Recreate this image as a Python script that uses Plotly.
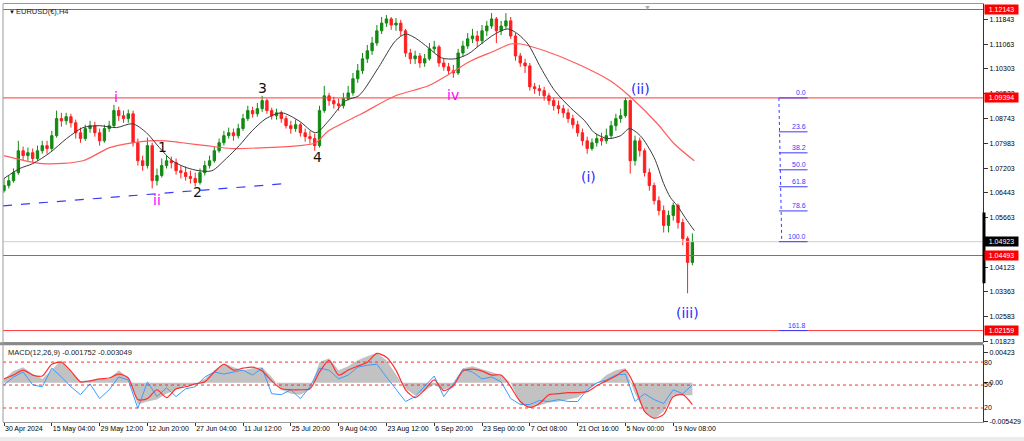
import plotly.graph_objects as go

# ---------------- data ----------------
first_open = 1.0651
closes = [
    1.0667, 1.0682, 1.0707, 1.0775, 1.0760, 1.0769, 1.0751, 1.0775, 1.0791, 1.0782,
    1.0822, 1.0875, 1.0868, 1.0881, 1.0862, 1.0831, 1.0813, 1.0844, 1.0853, 1.0831,
    1.0806, 1.0844, 1.0853, 1.0900, 1.0884, 1.0875, 1.0890, 1.0800, 1.0744, 1.0729,
    1.0791, 1.0682, 1.0698, 1.0729, 1.0744, 1.0738, 1.0713, 1.0707, 1.0695, 1.0689,
    1.0676, 1.0707, 1.0729, 1.0744, 1.0775, 1.0800, 1.0822, 1.0831, 1.0822, 1.0844,
    1.0875, 1.0900, 1.0890, 1.0906, 1.0931, 1.0900, 1.0884, 1.0893, 1.0875, 1.0853,
    1.0844, 1.0856, 1.0831, 1.0819, 1.0813, 1.0791, 1.0900, 1.0946, 1.0931, 1.0921,
    1.0915, 1.0937, 1.0955, 1.0999, 1.1024, 1.1061, 1.1086, 1.1110, 1.1148, 1.1172,
    1.1185, 1.1166, 1.1172, 1.1148, 1.1079, 1.1061, 1.1070, 1.1048, 1.1061, 1.1092,
    1.1098, 1.1048, 1.1036, 1.1024, 1.1017, 1.1079, 1.1101, 1.1123, 1.1132, 1.1117,
    1.1148, 1.1163, 1.1185, 1.1148, 1.1163, 1.1179, 1.1132, 1.1070, 1.1048, 1.1039,
    1.0974, 1.0968, 1.0962, 1.0946, 1.0931, 1.0915, 1.0906, 1.0893, 1.0875, 1.0856,
    1.0831, 1.0806, 1.0782, 1.0800, 1.0813, 1.0806, 1.0822, 1.0853, 1.0875, 1.0884,
    1.0931, 1.0744, 1.0806, 1.0775, 1.0707, 1.0667, 1.0620, 1.0589, 1.0543, 1.0574,
    1.0605, 1.0552, 1.0502, 1.0428, 1.04923,
]
highs = [
    1.0689, 1.0698, 1.0720, 1.0806, 1.0788, 1.0785, 1.0782, 1.0791, 1.0806, 1.0806,
    1.0837, 1.0900, 1.0893, 1.0893, 1.0890, 1.0872, 1.0847, 1.0856, 1.0868, 1.0865,
    1.0844, 1.0856, 1.0868, 1.0918, 1.0912, 1.0900, 1.0903, 1.0900, 1.0813, 1.0760,
    1.0816, 1.0800, 1.0720, 1.0751, 1.0760, 1.0757, 1.0751, 1.0729, 1.0726, 1.0713,
    1.0707, 1.0720, 1.0744, 1.0760, 1.0788, 1.0813, 1.0837, 1.0847, 1.0844, 1.0859,
    1.0890, 1.0915, 1.0912, 1.0924, 1.0946, 1.0937, 1.0909, 1.0906, 1.0900, 1.0884,
    1.0868, 1.0872, 1.0862, 1.0844, 1.0837, 1.0828, 1.0915, 1.0977, 1.0955, 1.0943,
    1.0937, 1.0955, 1.0977, 1.1017, 1.1045, 1.1079, 1.1104, 1.1129, 1.1166, 1.1191,
    1.1197, 1.1191, 1.1188, 1.1182, 1.1154, 1.1092, 1.1086, 1.1079, 1.1076, 1.1110,
    1.1117, 1.1104, 1.1061, 1.1048, 1.1042, 1.1092, 1.1117, 1.1141, 1.1154, 1.1148,
    1.1166, 1.1179, 1.1203, 1.1191, 1.1179, 1.1203, 1.1191, 1.1141, 1.1079, 1.1061,
    1.1048, 1.0986, 1.0980, 1.0974, 1.0955, 1.0940, 1.0931, 1.0918, 1.0906, 1.0887,
    1.0868, 1.0844, 1.0819, 1.0813, 1.0828, 1.0831, 1.0844, 1.0868, 1.0890, 1.0906,
    1.0940, 1.0934, 1.0822, 1.0816, 1.0782, 1.0720, 1.0676, 1.0633, 1.0605, 1.0589,
    1.0614, 1.0611, 1.0564, 1.0509, 1.0518,
]
lows = [
    1.0645, 1.0658, 1.0676, 1.0701, 1.0744, 1.0744, 1.0738, 1.0744, 1.0766, 1.0766,
    1.0775, 1.0816, 1.0850, 1.0856, 1.0847, 1.0813, 1.0800, 1.0806, 1.0831, 1.0819,
    1.0791, 1.0800, 1.0834, 1.0847, 1.0868, 1.0862, 1.0862, 1.0788, 1.0729, 1.0713,
    1.0720, 1.0658, 1.0667, 1.0692, 1.0720, 1.0720, 1.0701, 1.0689, 1.0682, 1.0673,
    1.0664, 1.0670, 1.0698, 1.0720, 1.0738, 1.0769, 1.0791, 1.0813, 1.0806, 1.0813,
    1.0837, 1.0868, 1.0878, 1.0881, 1.0896, 1.0890, 1.0872, 1.0872, 1.0862, 1.0844,
    1.0828, 1.0834, 1.0819, 1.0803, 1.0797, 1.0775, 1.0785, 1.0893, 1.0915, 1.0906,
    1.0900, 1.0906, 1.0931, 1.0946, 1.0986, 1.1014, 1.1048, 1.1073, 1.1101, 1.1138,
    1.1160, 1.1151, 1.1148, 1.1132, 1.1067, 1.1045, 1.1045, 1.1033, 1.1036, 1.1055,
    1.1079, 1.1036, 1.1024, 1.1011, 1.1002, 1.1011, 1.1067, 1.1092, 1.1110, 1.1098,
    1.1107, 1.1132, 1.1154, 1.1110, 1.1135, 1.1154, 1.1123, 1.1055, 1.1036, 1.1017,
    1.0962, 1.0952, 1.0946, 1.0931, 1.0918, 1.0900, 1.0890, 1.0878, 1.0862, 1.0844,
    1.0819, 1.0791, 1.0766, 1.0775, 1.0788, 1.0791, 1.0797, 1.0813, 1.0837, 1.0862,
    1.0878, 1.0704, 1.0729, 1.0757, 1.0695, 1.0651, 1.0608, 1.0574, 1.0521, 1.0521,
    1.0558, 1.0533, 1.0481, 1.0332, 1.0419,
]
opens = [first_open] + closes[:-1]
bar_idx = list(range(len(closes)))

# moving averages (bar index, price)
black_ma_idx = [0, 3.3, 6, 9.6, 13.1, 16.5, 20, 23.5, 26.9, 29.8, 32.5, 35.2, 38.1, 40.8, 43.5,
                46.5, 49.2, 51.9, 54.8, 58.1, 61.7, 65.2, 67.9, 71.5, 74.2, 78.3, 81.9, 84, 86,
                88.8, 91.5, 94.4, 97.1, 99.8, 102.7, 105.4, 107.5, 109.6, 112.3, 115.2, 118.5,
                121.5, 123.5, 126.3, 129, 130.8, 133.1, 136, 138, 139.4, 140.8, 142.9, 144.4]
black_ma = [1.0689, 1.0720, 1.0735, 1.0769, 1.0813, 1.0847, 1.0853, 1.0847, 1.0859, 1.0831,
            1.0785, 1.0744, 1.0723, 1.0713, 1.0713, 1.0751, 1.0791, 1.0837, 1.0875, 1.0893,
            1.0868, 1.0831, 1.0868, 1.0931, 1.0946, 1.1033, 1.1117, 1.1138, 1.1126, 1.1095,
            1.1064, 1.1061, 1.1076, 1.1107, 1.1138, 1.1154, 1.1138, 1.1107, 1.1033, 1.0962,
            1.0909, 1.0868, 1.0831, 1.0813, 1.0822, 1.0844, 1.0822, 1.0754, 1.0673, 1.0630,
            1.0605, 1.0558, 1.0527]
red_ma_idx = [0, 8.1, 16.5, 22.1, 26.9, 30.4, 34, 37.3, 42.3, 47.7, 54.8, 61.7, 65.2, 67.9,
              74.8, 81.9, 88.75, 93.5, 97.7, 102.7, 106, 108.1, 113.1, 120, 126.9, 131, 136.7,
              140.2, 144.4]
red_ma = [1.0760, 1.0735, 1.0744, 1.0785, 1.0800, 1.0806, 1.0806, 1.0800, 1.0791, 1.0782,
          1.0785, 1.0791, 1.0800, 1.0837, 1.0890, 1.0946, 1.0977, 1.1017, 1.1055, 1.1086,
          1.1107, 1.1107, 1.1086, 1.1045, 1.0992, 1.0943, 1.0859, 1.0797, 1.0744]

trend_idx = [-0.2, 59]
trend_price = [1.0604, 1.0673]

# horizontal levels
red_levels = [1.12143, 1.09394, 1.04493, 1.02159]
current_price = 1.04923
scale_bar = [1.0583, 1.0363]

# fibonacci
fib_ratios = [0.0, 23.6, 38.2, 50.0, 61.8, 78.6, 100.0, 161.8]
fib_high = 1.09394
fib_low = 1.04923
fib_x = [162.1, 168.1]
fib_stem_x = [162.1, 162.7]

# wave labels
wave_text = ["i", "ii", "1", "2", "3", "4", "iv", "(ii)", "(i)", "(iii)"]
wave_idx = [23.5, 32.0, 33.1, 40.4, 54.0, 65.6, 94.0, 133.1, 122.3, 142.9]
wave_price = [1.0943, 1.0623, 1.0788, 1.0648, 1.0971, 1.0757, 1.0949, 1.0968, 1.0695, 1.0270]
wave_color = ["#ff00ff", "#ff00ff", "#111111", "#111111", "#111111", "#111111",
              "#ff00ff", "#2b2bff", "#2b2bff", "#2b2bff"]

# axis labels
price_ticks = [1.11843, 1.11063, 1.10303, 1.09523, 1.08743, 1.07983, 1.07203, 1.06443,
               1.05663, 1.04883, 1.04123, 1.03363, 1.02583, 1.01823]
date_tick_idx = [0, 10, 20, 30, 40, 50, 60, 70, 80, 90, 100, 110, 120, 130, 140]
date_labels = ["30 Apr 2024", "15 May 04:00", "29 May 12:00", "12 Jun 20:00", "27 Jun 04:00",
               "11 Jul 12:00", "25 Jul 20:00", "9 Aug 04:00", "23 Aug 12:00", "6 Sep 20:00",
               "23 Sep 00:00", "7 Oct 08:00", "21 Oct 16:00", "5 Nov 00:00", "19 Nov 08:00"]

# MACD panel (every second bar)
macd_idx = list(range(0, 145, 2))
macd_hist = [0.00055, 0.00166, 0.00221, 0.00124, 0.00055, 0.00179, 0.00317, 0.00166, 0.00028, 0.00041,
             0.00055, 0.00055, 0.00179, 0.00069, -0.00304, -0.00262, -0.00235, -0.00152, -0.00097, -0.00041,
             -0.00014, 0.00055, 0.00179, 0.00276, 0.00221, 0.00179, 0.00207, 0.00221, 0.00083, -0.00097,
             -0.00152, -0.00166, -0.00097, 0.00290, 0.00345, 0.00179, 0.00235, 0.00317, 0.00373, 0.00423,
             0.00317, 0.00124, -0.00083, -0.00179, -0.00110, -0.00028, -0.00097, -0.00055, 0.00207, 0.00235,
             0.00193, 0.00152, 0.00110, 0.0, -0.00290, -0.00345, -0.00317, -0.00276, -0.00262, -0.00235,
             -0.00207, -0.00110, -0.00014, 0.00110, 0.00179, 0.00207, -0.00152, -0.00400, -0.00511, -0.00400,
             -0.00166, -0.00179, -0.001752]
macd_red = [0.00055, 0.00110, 0.00179, 0.00110, 0.00097, 0.00262, 0.00290, 0.00166, 0.00014, 0.00028,
            0.00055, 0.00069, 0.00124, 0.00069, -0.00235, -0.00221, -0.00097, -0.00207, -0.00083, -0.00055,
            -0.00014, 0.00014, 0.00152, 0.00262, 0.00179, 0.00207, 0.00221, 0.00166, 0.00028, -0.00083,
            -0.00097, -0.00097, -0.00083, 0.00152, 0.00317, 0.00110, 0.00179, 0.00235, 0.00290, 0.00414,
            0.00359, 0.00179, -0.00097, -0.00207, -0.00097, 0.00041, -0.00110, -0.00041, 0.00166, 0.00193,
            0.00166, 0.00110, 0.00110, -0.00055, -0.00262, -0.00345, -0.00290, -0.00166, -0.00152, -0.00138,
            -0.00138, -0.00124, -0.00041, 0.00028, 0.00097, 0.00179, -0.00055, -0.00400, -0.00497, -0.00442,
            -0.00193, -0.00166, -0.003049]
macd_blue = [-0.00028, 0.00083, 0.00152, -0.00028, -0.00055, 0.00207, 0.00083, -0.00055, -0.00166, -0.00014,
             -0.00221, -0.00097, 0.00083, 0.00041, -0.00359, 0.00014, -0.00193, -0.00069, -0.00193, -0.00083,
             -0.00055, 0.00083, 0.00152, 0.00124, 0.00152, 0.00179, 0.00110, 0.00207, -0.00152, -0.00166,
             -0.00097, -0.00221, -0.00055, 0.00207, 0.00179, 0.00055, 0.00110, 0.00221, 0.00248, 0.00262,
             0.00083, -0.00083, -0.00262, -0.00193, -0.00055, 0.00097, -0.00193, -0.00014, 0.00193, 0.00152,
             0.00055, 0.00083, 0.00014, -0.00221, -0.00304, -0.00304, -0.00248, -0.00262, -0.00235, -0.00262,
             -0.00262, -0.00097, 0.0, 0.00041, 0.00110, 0.00124, -0.00262, -0.00152, -0.00235, -0.00290,
             -0.00097, -0.00152, -0.00028]
macd_levels = [80, 50, 20]
macd_scale_ticks = [0.00423, 0.0, -0.005429]
macd_scale_text = ["0.00423", "0.00", "-0.005429"]

# ---------------- figure ----------------
FONT = "Liberation Sans, Arial, sans-serif"
TS = 7
x_range = [-0.21, 204.8]

fig = go.Figure()

# current price line and red horizontal levels as line traces
fig.add_trace(go.Scatter(x=x_range, y=[current_price, current_price], mode="lines",
                         hoverinfo="skip", line=dict(color="#cfcfcf", width=1),
                         xaxis="x", yaxis="y"))
fig.add_trace(go.Candlestick(
    x=bar_idx, open=opens, high=highs, low=lows, close=closes,
    increasing=dict(line=dict(color="#128a12", width=1), fillcolor="#128a12"),
    decreasing=dict(line=dict(color="#ff1f1f", width=1), fillcolor="#ff1f1f"),
    whiskerwidth=0, hoverinfo="skip", xaxis="x", yaxis="y"))
for lv in red_levels:
    fig.add_trace(go.Scatter(x=x_range, y=[lv, lv], mode="lines", hoverinfo="skip",
                             line=dict(color="#ff3838", width=1), xaxis="x", yaxis="y"))
fig.add_trace(go.Scatter(x=red_ma_idx, y=red_ma, mode="lines", hoverinfo="skip",
                         line=dict(color="#ff5c5c", width=1.2, shape="spline", smoothing=0.8),
                         xaxis="x", yaxis="y"))
fig.add_trace(go.Scatter(x=black_ma_idx, y=black_ma, mode="lines", hoverinfo="skip",
                         line=dict(color="#3a3a3a", width=1, shape="spline", smoothing=0.8),
                         xaxis="x", yaxis="y"))
fig.add_trace(go.Scatter(x=trend_idx, y=trend_price, mode="lines", hoverinfo="skip",
                         line=dict(color="#3b3bff", width=1.2, dash="dash"),
                         xaxis="x", yaxis="y"))

# MACD panel
fig.add_trace(go.Scatter(x=macd_idx, y=macd_hist, mode="lines", fill="tozeroy",
                         fillcolor="#c2c2c2", line=dict(width=0, color="#c2c2c2"),
                         hoverinfo="skip", xaxis="x2", yaxis="y2"))
fig.add_trace(go.Scatter(x=macd_idx, y=macd_blue, mode="lines", hoverinfo="skip",
                         line=dict(color="#3d9bff", width=1),
                         xaxis="x2", yaxis="y2"))
fig.add_trace(go.Scatter(x=macd_idx, y=macd_red, mode="lines", hoverinfo="skip",
                         line=dict(color="#ff3030", width=1.2, shape="spline", smoothing=0.7),
                         xaxis="x2", yaxis="y2"))

shapes = []
# fibonacci levels
fib_prices = [fib_high - (fib_high - fib_low) * r / 100.0 for r in fib_ratios]
for fp in fib_prices:
    shapes.append(dict(type="line", xref="x", x0=fib_x[0], x1=fib_x[1], yref="y", y0=fp, y1=fp,
                       line=dict(color="#3a3aff", width=1)))
shapes.append(dict(type="line", xref="x", x0=fib_stem_x[0], x1=fib_stem_x[1], yref="y",
                   y0=fib_high, y1=fib_low, line=dict(color="#3a3aff", width=1, dash="dot")))
# macd dotted levels
for lv in macd_levels:
    shapes.append(dict(type="line", xref="paper", x0=0, x1=1, yref="y3", y0=lv, y1=lv,
                       line=dict(color="#ff3030", width=1, dash="dot")))
# panel separator, left frame, scale bar, bottom strip
shapes.append(dict(type="rect", xref="paper", x0=-0.003, x1=1.0, yref="paper", y0=0.1838, y1=0.1909,
                   fillcolor="#8a8a8a", line=dict(width=0)))
shapes.append(dict(type="line", xref="paper", x0=0, x1=0, yref="paper", y0=0, y1=1,
                   line=dict(color="#9a9a9a", width=1)))
shapes.append(dict(type="line", xref="paper", x0=1.001, x1=1.001, yref="y", y0=scale_bar[0],
                   y1=scale_bar[1], line=dict(color="#000000", width=3)))
shapes.append(dict(type="rect", xref="paper", x0=-0.01, x1=1.05, yref="paper", y0=-0.047, y1=-0.036,
                   fillcolor="#ececec", line=dict(width=0)))

annotations = []
# price boxes on the right
for lv in red_levels:
    annotations.append(dict(xref="paper", x=1, xanchor="left", xshift=1, yref="y", y=lv,
                            yanchor="middle", text=f"{lv:.5f}", showarrow=False,
                            bgcolor="#ff0000", borderpad=1, width=31, align="center",
                            font=dict(family=FONT, size=TS, color="white")))
annotations.append(dict(xref="paper", x=1, xanchor="left", xshift=1, yref="y", y=current_price,
                        yanchor="middle", text=f"{current_price:.5f}", showarrow=False,
                        bgcolor="#000000", borderpad=1, width=31, align="center",
                        font=dict(family=FONT, size=TS, color="white")))
# fib labels
for r, fp in zip(fib_ratios, fib_prices):
    annotations.append(dict(xref="x", x=fib_x[1], xanchor="right", yref="y", y=fp,
                            yanchor="bottom", text=f"{r:.1f}", showarrow=False,
                            font=dict(family=FONT, size=TS, color="#3a3aff")))
# wave labels
for t, xi, yp, c in zip(wave_text, wave_idx, wave_price, wave_color):
    annotations.append(dict(xref="x", x=xi, yref="y", y=yp, text=t, showarrow=False,
                            xanchor="center", yanchor="middle",
                            font=dict(family="DejaVu Sans, sans-serif", size=14, color=c)))
# titles
annotations.append(dict(xref="paper", x=0.0045, xanchor="left", yref="paper", y=0.982,
                        yanchor="middle", text="▼", showarrow=False,
                        font=dict(family=FONT, size=6, color="#111")))
annotations.append(dict(xref="paper", x=0.0115, xanchor="left", yref="paper", y=0.982,
                        yanchor="middle", text="EURUSD(€),H4", showarrow=False,
                        font=dict(family=FONT, size=7.5, color="#222")))
annotations.append(dict(xref="paper", x=0.6575, xanchor="center", yref="paper", y=0.991,
                        yanchor="middle", text="▼", showarrow=False,
                        font=dict(family=FONT, size=7, color="#a8a8a8")))
annotations.append(dict(xref="paper", x=0.003, xanchor="left", yref="paper", y=0.166,
                        yanchor="middle", text="MACD(12,26,9) -0.001752 -0.003049",
                        showarrow=False, font=dict(family=FONT, size=7.5, color="#222")))

fig.update_layout(
    width=1024, height=441,
    margin=dict(l=3, r=37, t=3, b=19),
    paper_bgcolor="white", plot_bgcolor="white", showlegend=False,
    font=dict(family=FONT, size=8, color="#000"),
    xaxis=dict(domain=[0, 1], anchor="y", range=x_range, showticklabels=False, ticks="",
               showgrid=False, zeroline=False, showline=True, mirror=True,
               linecolor="#9a9a9a", rangeslider=dict(visible=False)),
    xaxis2=dict(domain=[0, 1], anchor="y2", matches="x", range=x_range, tickmode="array",
                tickvals=date_tick_idx, ticktext=date_labels, ticks="outside", ticklen=3,
                tickcolor="#333", ticklabelposition="outside right", tickangle=0,
                tickfont=dict(family=FONT, size=TS, color="#000"),
                showgrid=False, zeroline=False, showline=True, mirror=True, linecolor="#9a9a9a"),
    yaxis=dict(domain=[0.1909, 1], anchor="x", side="right", range=[1.01798, 1.12314],
               tickmode="array", tickvals=price_ticks, ticktext=[f"{v:.5f}" for v in price_ticks],
               ticks="outside", ticklen=4, tickcolor="#333",
               tickfont=dict(family=FONT, size=TS, color="#000"),
               showgrid=False, zeroline=False, showline=True, linecolor="#333"),
    yaxis2=dict(domain=[0, 0.1838], anchor="x2", side="right", range=[-0.0055, 0.0053],
                tickmode="array", tickvals=macd_scale_ticks, ticktext=macd_scale_text,
                ticks="outside", ticklen=4, tickcolor="#333",
                tickfont=dict(family=FONT, size=TS, color="#000"),
                showgrid=False, zeroline=False, showline=True, linecolor="#333"),
    yaxis3=dict(overlaying="y2", anchor="x2", side="right", range=[1.7, 102.1],
                tickmode="array", tickvals=macd_levels, ticktext=[str(v) for v in macd_levels],
                ticks="", tickfont=dict(family=FONT, size=TS, color="#000"),
                showgrid=False, zeroline=False, showline=False),
    shapes=shapes, annotations=annotations,
)

fig.write_html("out.html", config={"displayModeBar": False, "staticPlot": True},
               post_script="document.body.style.margin='0';document.body.style.overflow='hidden';")
